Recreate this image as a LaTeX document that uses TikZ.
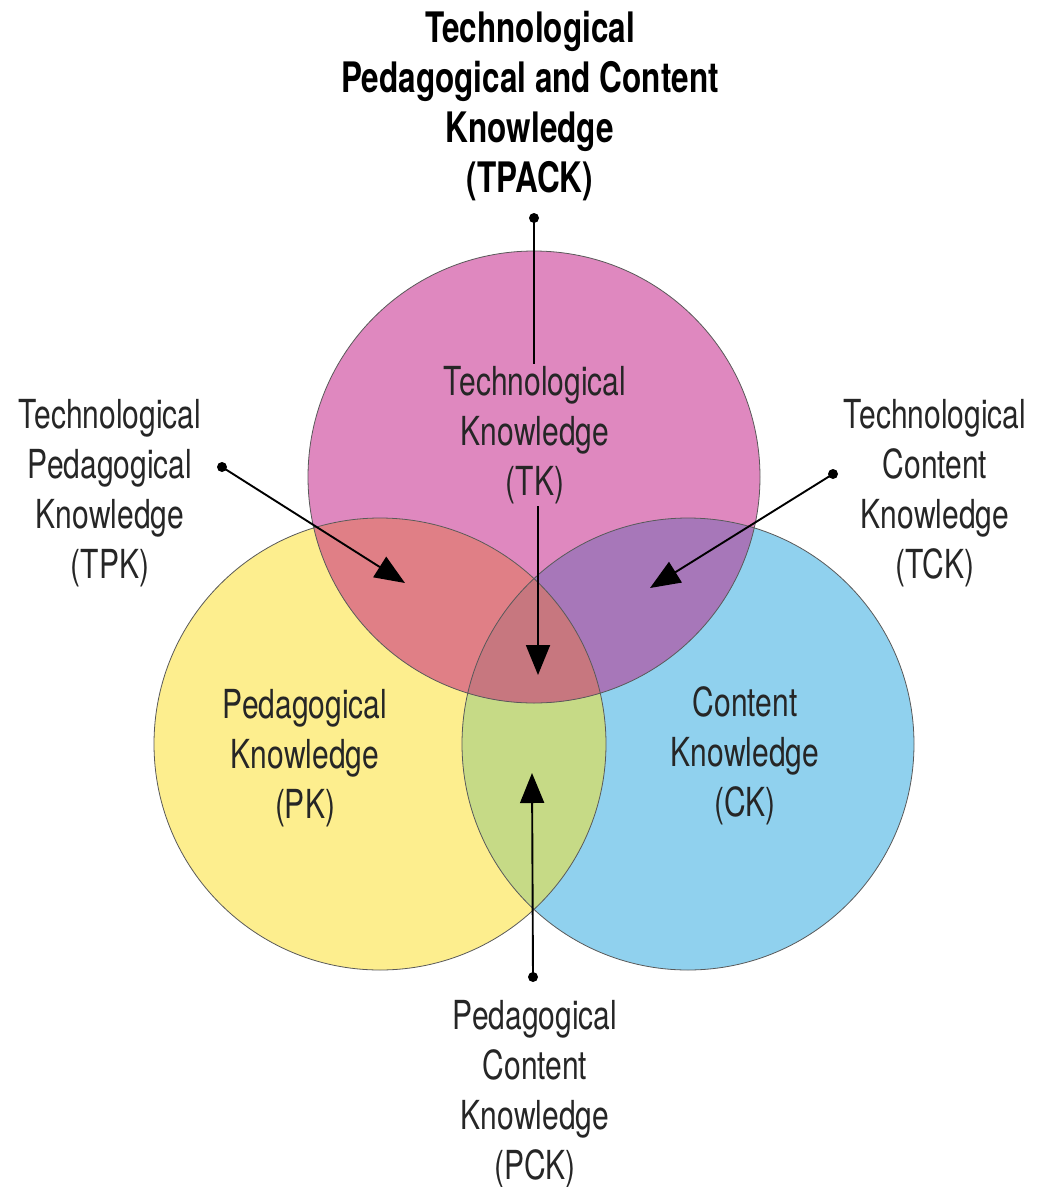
\documentclass[tikz,border=0pt]{standalone}
\usepackage{fontspec}
\setmainfont{TeX Gyre Heros}[FakeStretch=0.75]
\usetikzlibrary{arrows.meta}
\definecolor{tkpink}{HTML}{DF88BF}
\definecolor{pkyellow}{HTML}{FDEE8E}
\definecolor{ckblue}{HTML}{90D1EE}
\definecolor{tpkred}{HTML}{E07F86}
\definecolor{tckpurple}{HTML}{A777B9}
\definecolor{pckgreen}{HTML}{C6DA86}
\definecolor{tpackrose}{HTML}{C7777F}
\begin{document}
\begin{tikzpicture}[x=1pt,y=-1pt,
    lbl/.style={align=center,text=black!85,font=\fontsize{40}{50}\selectfont,inner sep=2pt},
    pointer/.style={line width=1.9pt,-{Triangle[length=30pt,width=24pt]}},
    ring/.style={draw=black!65,line width=0.8pt}]
    \useasboundingbox (0,0) rectangle (1047,1187);
    \fill[white] (0,0) rectangle (1047,1187);
    % circle centres
    \coordinate (T) at (534,477);
    \coordinate (P) at (380,744);
    \coordinate (C) at (688,744);
    % single circles
    \fill[tkpink] (T) circle[radius=226pt];
    \fill[pkyellow] (P) circle[radius=226pt];
    \fill[ckblue] (C) circle[radius=226pt];
    % overlaps
    \begin{scope}
    \clip (P) circle[radius=226pt];
    \fill[pckgreen] (C) circle[radius=226pt];
    \end{scope}
    \begin{scope}
    \clip (T) circle[radius=226pt];
    \fill[tpkred] (P) circle[radius=226pt];
    \fill[tckpurple] (C) circle[radius=226pt];
    \clip (P) circle[radius=226pt];
    \fill[tpackrose] (C) circle[radius=226pt];
    \end{scope}
    \foreach \c in {T,P,C}
    {
    \draw[ring] (\c) circle[radius=226pt];
    }
    % labels
    \node[lbl,text=black,font=\fontsize{42}{50}\selectfont\bfseries] (tpack) at (530,106) {Technological\\Pedagogical and Content\\Knowledge\\(TPACK)};
    \node[lbl] (tk) at (535,435) {Technological\\Knowledge\\(TK)};
    \node[lbl] (tpk) at (110,493) {Technological\\Pedagogical\\Knowledge\\(TPK)};
    \node[lbl] (tck) at (935,493) {Technological\\Content\\Knowledge\\(TCK)};
    \node[lbl] (pk) at (305,758) {Pedagogical\\Knowledge\\(PK)};
    \node[lbl] (ck) at (745,756) {Content\\Knowledge\\(CK)};
    \node[lbl] (pck) at (535,1094) {Pedagogical\\Content\\Knowledge\\(PCK)};
    % pointers
    \coordinate (tpackdot) at (534,218);
    \coordinate (tpacktip) at (538,675);
    \coordinate (tpkdot) at (222,467);
    \coordinate (tpktip) at (405,583);
    \coordinate (tckdot) at (833,474);
    \coordinate (tcktip) at (650,588);
    \coordinate (pckdot) at (533,977);
    \coordinate (pcktip) at (532,773);
    \draw[line width=1.9pt] (tpackdot) -- (tpackdot |- tk.north);
    \draw[pointer] (tpacktip |- tk.south) -- (tpacktip);
    \draw[pointer] (tpkdot) -- (tpktip);
    \draw[pointer] (tckdot) -- (tcktip);
    \draw[pointer] (pckdot) -- (pcktip);
    \foreach \d in {tpackdot,tpkdot,tckdot,pckdot}
    {
    \fill (\d) circle[radius=5pt];
    }
\end{tikzpicture}
\end{document}
